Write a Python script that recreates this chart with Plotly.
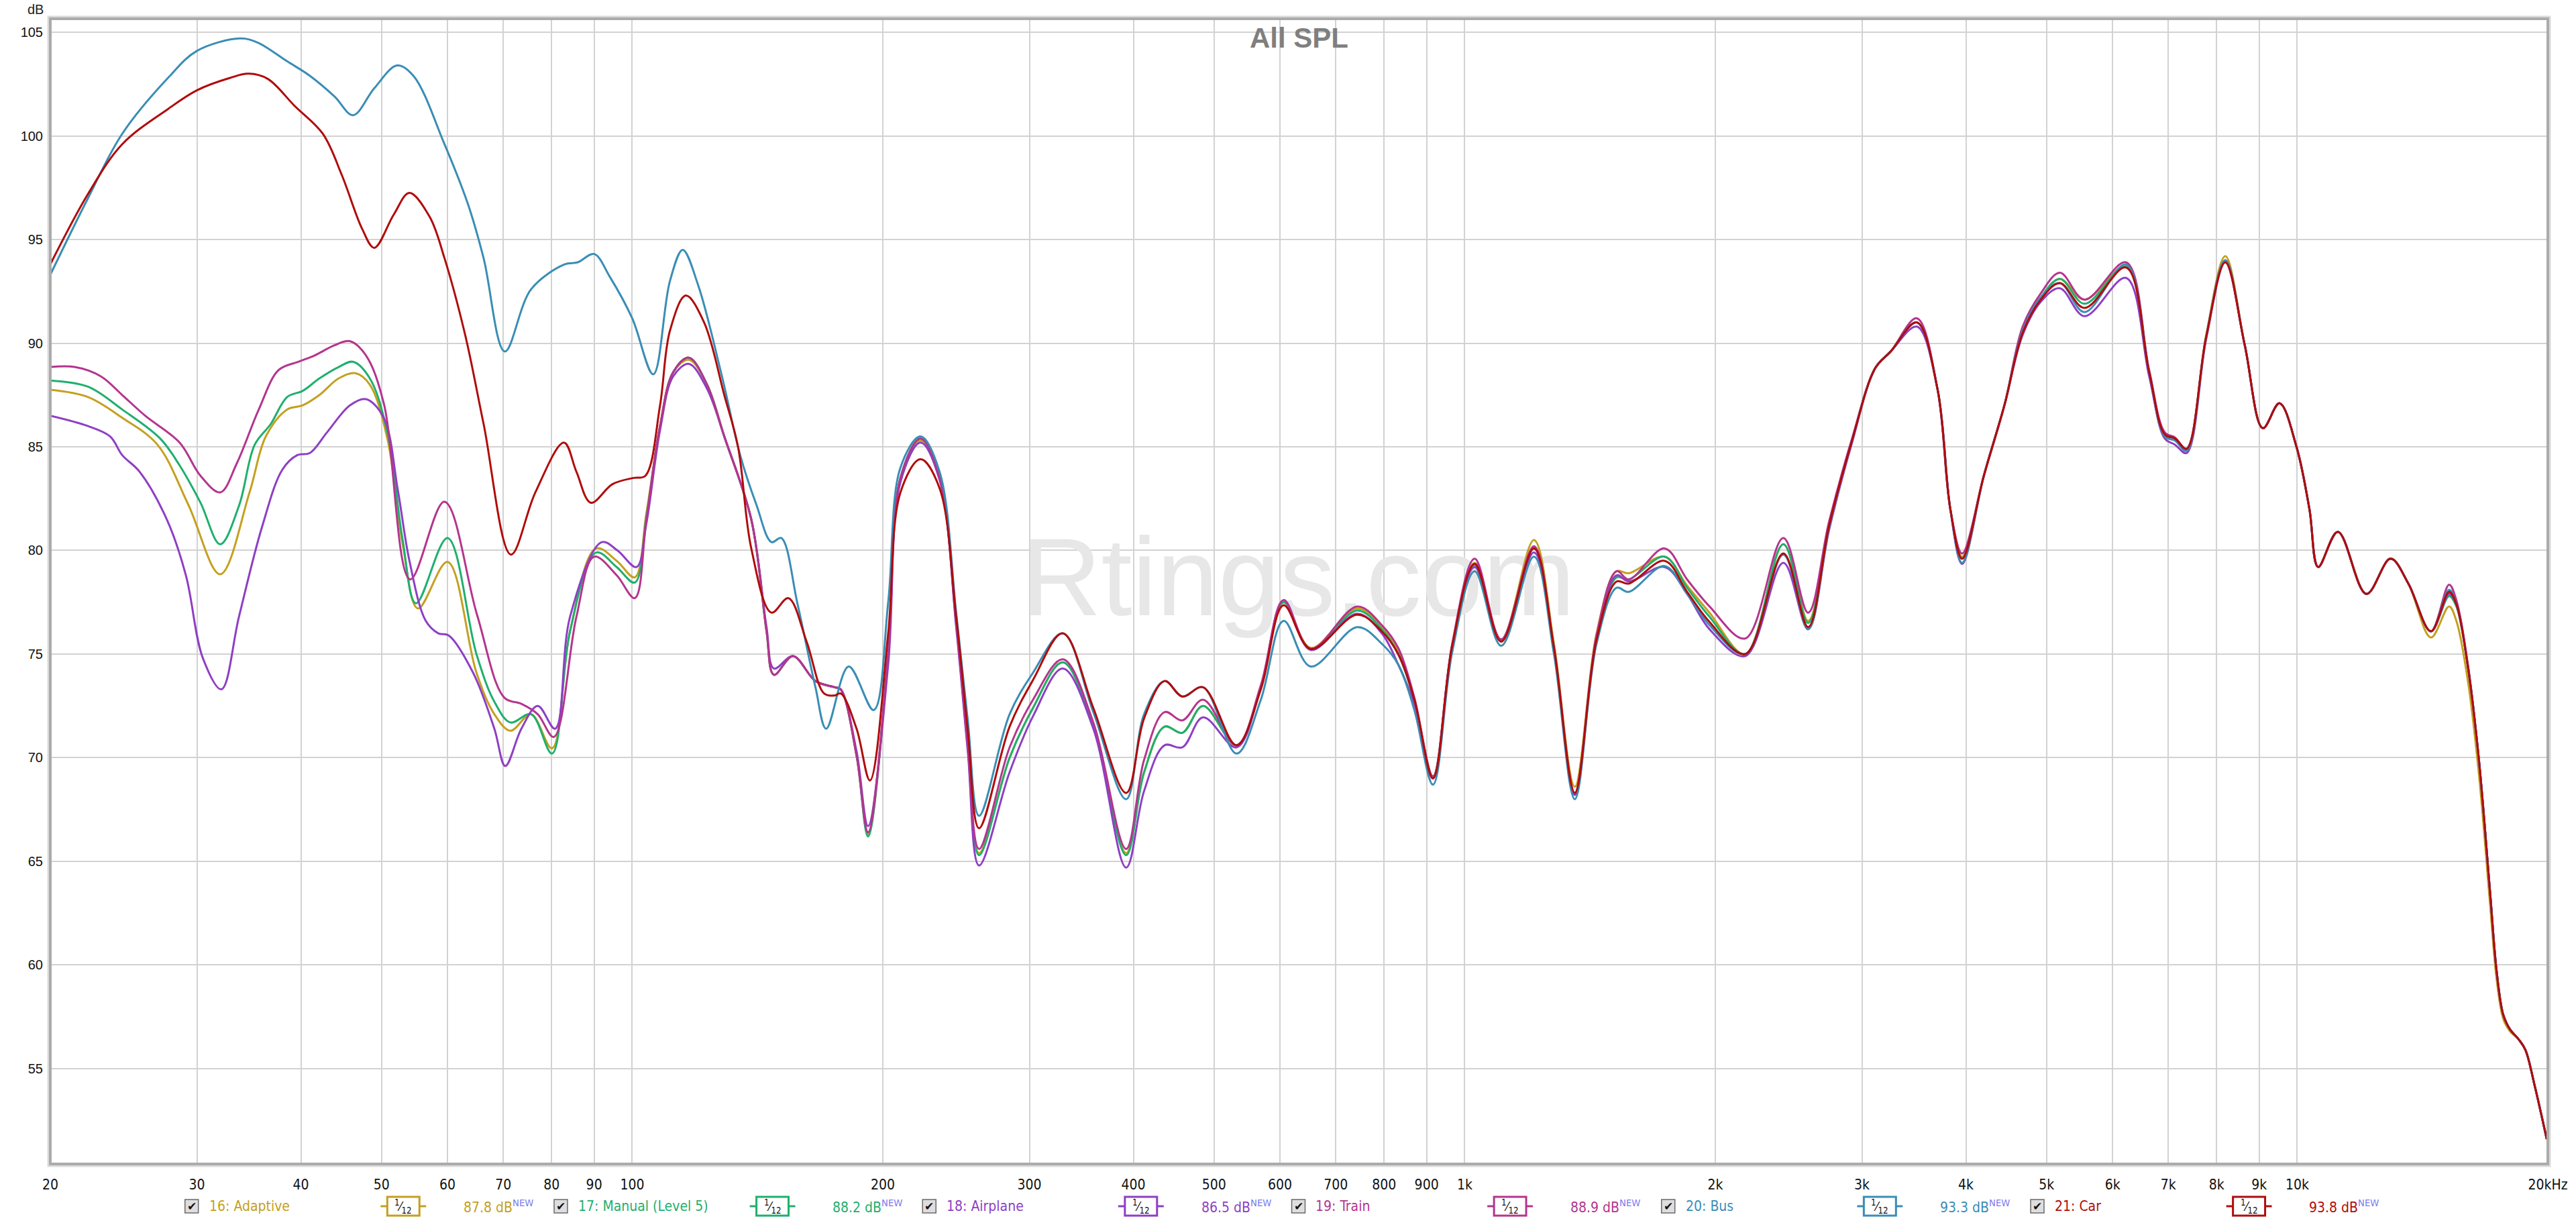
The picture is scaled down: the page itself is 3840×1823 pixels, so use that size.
import math
import plotly.graph_objects as go

# ---------------- data ----------------
SERIES_NAMES = ["16: Adaptive", "17: Manual (Level 5)", "18: Airplane", "19: Train", "20: Bus", "21: Car"]
SERIES_DB_LABEL = ["87.8", "88.2", "86.5", "88.9", "93.3", "93.8"]
SERIES_COLORS = ["#C4A020", "#1FAF6E", "#8E3FC4", "#B4358E", "#3A8DB5", "#B00C0C"]

# low-frequency parts (own frequency points per series)
F_ADA_LO = [20, 22.2, 24.4, 26.9, 29.3, 32, 34.7, 36.3, 38.5, 40.2, 42.1, 44.4, 46.5, 48.4, 50.8, 53, 55.3, 60, 65,
            68.3, 71.4, 75.6, 80.1, 84.2, 90.5, 95.8, 100.7, 104, 108, 112, 117, 123, 129, 139, 145, 148, 156, 166,
            175, 178, 186, 192]
DB_ADA_LO = [87.75, 87.4, 86.4, 85.1, 82.2, 78.85, 82.8, 85.5, 86.8, 87.0, 87.5, 88.3, 88.55, 88.0, 85.4, 80.3, 77.2,
             79.45, 74.1, 72.1, 71.3, 72.1, 70.45, 76.1, 80.1, 79.5, 78.7, 81.8, 86.0, 88.6, 89.2, 88.0, 85.5, 81.5,
             76.1, 74.0, 74.9, 73.7, 73.4, 73.3, 70.1, 66.3]

F_MAN_LO = [20, 22.2, 24.4, 27.1, 28.6, 30.3, 32, 33.7, 35.2, 36.8, 38.5, 40.2, 42.1, 44.4, 46.2, 48.4, 50.8, 53, 55,
            60, 65, 68.3, 71.4, 75.6, 80.1, 84.2, 90.5, 95.8, 100.7, 104, 108, 112, 117, 123, 129, 139, 145, 148, 156,
            166, 175, 178, 186, 192]
DB_MAN_LO = [88.2, 87.9, 86.8, 85.4, 84.1, 82.3, 80.3, 82.15, 85.1, 86.1, 87.4, 87.7, 88.3, 88.85, 89.1, 88.3, 85.7,
             80.5, 77.45, 80.6, 75.0, 72.7, 71.7, 72.1, 70.2, 76.1, 79.9, 79.2, 78.45, 81.6, 86.0, 88.6, 89.3, 88.0,
             85.5, 81.5, 76.1, 74.0, 74.9, 73.7, 73.4, 73.3, 70.1, 66.2]

F_AIR_LO = [20, 22.2, 23.6, 24.4, 25.6, 27.6, 29.1, 30.5, 32.1, 33.7, 35.9, 38, 39.6, 41, 43, 45.8, 47.9, 50.3, 52.3,
            54, 56.5, 58.5, 60.2, 64.4, 68.3, 70.4, 73.6, 77, 80.8, 84.2, 91.9, 96, 101.2, 104, 108, 112, 117, 123,
            129, 139, 145, 148, 156, 166, 175, 178, 186, 192]
DB_AIR_LO = [86.5, 86.0, 85.5, 84.6, 83.8, 81.5, 78.8, 74.8, 73.3, 76.8, 81.1, 83.9, 84.6, 84.7, 85.7, 87.0, 87.3,
             86.4, 82.9, 79.5, 76.6, 76.0, 75.9, 74.1, 71.4, 69.6, 71.4, 72.5, 71.4, 76.8, 80.4, 80.0, 79.2, 81.3,
             85.8, 88.4, 89.0, 87.8, 85.5, 81.5, 76.3, 74.3, 74.9, 73.7, 73.4, 73.3, 70.3, 66.7]

F_TRA_LO = [20, 21.4, 23, 24.4, 26, 28.6, 30.3, 32, 33.5, 35.6, 37.6, 39.7, 41.5, 43.9, 45.8, 47.9, 50.3, 54.1, 59.5,
            65.1, 70.2, 73.6, 77, 80.5, 85.7, 90, 95.8, 100.7, 104, 108, 112, 117, 123, 129, 139, 145, 148, 156, 166,
            175, 178, 186, 192]
DB_TRA_LO = [88.85, 88.85, 88.4, 87.5, 86.5, 85.2, 83.6, 82.8, 84.2, 86.8, 88.7, 89.1, 89.4, 89.9, 90.1, 89.4, 87.1,
             78.6, 82.35, 76.9, 72.9, 72.6, 72.1, 71.0, 76.8, 79.7, 78.8, 77.7, 81.5, 86.0, 88.6, 89.3, 88.0, 85.5,
             81.5, 76.1, 74.0, 74.9, 73.7, 73.4, 73.3, 70.1, 66.4]

F_BUS_LO = [20, 22.2, 24.4, 27.7, 30, 33.8, 35.5, 38.5, 41, 43.9, 46.2, 49, 52.2, 54.6, 59.5, 63.5, 66.3, 70.3, 75.6,
            82.9, 86, 90, 94, 100, 106, 111, 115, 120, 128, 135, 141, 147, 151, 158, 166, 171, 182, 195]
DB_BUS_LO = [93.3, 97.0, 100.1, 102.8, 104.1, 104.7, 104.5, 103.6, 102.9, 101.9, 101.0, 102.3, 103.4, 102.9, 99.6,
             96.7, 94.1, 89.6, 92.6, 93.8, 93.9, 94.3, 93.2, 91.2, 88.5, 93.0, 94.5, 92.8, 88.5, 84.5, 82.2, 80.4,
             80.6, 77.4, 73.4, 71.4, 74.4, 72.3]

F_CAR_LO = [20, 22.2, 24.4, 27.7, 30, 32.9, 34.6, 36.5, 39.3, 42.5, 44.8, 47.4, 49, 51.7, 54, 57.1, 59.5, 63, 66.3,
            71.5, 76.5, 82.8, 85.7, 89.2, 94.7, 100.4, 103.7, 108, 111, 116, 122, 129, 134, 139, 147, 154, 162, 170,
            175, 178, 186, 193]
DB_CAR_LO = [93.8, 97.2, 99.6, 101.3, 102.2, 102.8, 103.0, 102.75, 101.45, 100.1, 98.1, 95.5, 94.6, 96.2, 97.25,
             96.1, 94.1, 90.4, 86.1, 79.8, 82.8, 85.2, 83.8, 82.3, 83.2, 83.5, 83.6, 87.0, 90.6, 92.3, 91.0, 87.5,
             85.0, 80.1, 77.0, 77.7, 75.6, 73.1, 73.0, 73.1, 71.4, 68.9]

# shared frequency points above 200 Hz
F_HI = [203, 210, 222, 234, 245, 253, 261, 284, 303, 329,
        358, 392, 412, 436, 458, 485, 532, 569, 606, 653,
        743, 795, 832, 870, 916, 966, 1028, 1106, 1211, 1280,
        1356, 1440, 1522, 1574, 1738, 1850, 1968, 2172, 2414, 2585,
        2740, 2919, 3113, 3249, 3492, 3697, 3831, 3958, 4203, 4449,
        4680, 4920, 5187, 5553, 6228, 6640, 6933, 7132, 7362, 7774,
        8196, 8650, 9094, 9521, 9980, 10343, 10597, 11190, 12108, 12945,
        13600, 14476, 15220, 15530, 16020, 16520, 17040, 17360, 17680, 18010,
        18460, 18800, 19280, 19940]

DB_ADA_HI = [75.0, 83.5, 85.3, 83.5, 76.5, 70.5, 65.4, 70.0, 72.4, 74.6,
             71.5, 65.4, 69.3, 71.5, 71.2, 72.5, 70.6, 73.4, 77.5, 75.3,
             77.2, 76.3, 75.2, 72.8, 69.1, 75.4, 79.4, 75.7, 80.5, 75.5,
             68.6, 76.0, 79.0, 78.9, 79.7, 78.3, 77.0, 75.0, 80.3, 76.6,
             81.2, 85.3, 88.8, 89.6, 91.0, 87.8, 82.0, 79.7, 83.6, 87.0,
             90.6, 92.2, 93.1, 92.1, 93.7, 88.6, 85.6, 85.4, 84.9, 90.4,
             94.2, 89.9, 85.9, 87.1, 85.0, 82.0, 79.2, 80.9, 77.9, 79.6,
             78.4, 75.8, 77.3, 76.6, 73.8, 69.3, 63.0, 59.3, 57.4, 56.8,
             56.4, 55.9, 54.2, 51.6]
DB_MAN_HI = [75.0, 83.5, 85.4, 83.5, 76.5, 70.5, 65.3, 70.0, 72.4, 74.6,
             71.5, 65.3, 69.3, 71.5, 71.2, 72.5, 70.6, 73.4, 77.5, 75.25,
             77.1, 76.2, 75.0, 72.8, 69.1, 75.4, 79.3, 75.7, 80.1, 75.3,
             68.2, 75.8, 78.7, 78.6, 79.7, 78.2, 76.8, 75.0, 80.3, 76.5,
             81.2, 85.3, 88.8, 89.6, 91.0, 87.8, 82.0, 79.6, 83.6, 87.0,
             90.6, 92.2, 93.1, 91.9, 93.7, 88.6, 85.6, 85.4, 84.9, 90.3,
             94.0, 89.9, 85.9, 87.1, 85.0, 82.0, 79.2, 80.9, 77.9, 79.6,
             78.4, 76.1, 77.8, 77.3, 74.5, 70.0, 63.6, 59.7, 57.6, 56.9,
             56.4, 55.9, 54.2, 51.6]
DB_AIR_HI = [74.5, 83.3, 85.2, 83.4, 76.3, 70.3, 64.8, 69.3, 72.0, 74.3,
             71.4, 64.7, 68.4, 70.6, 70.5, 71.95, 70.5, 73.4, 77.6, 75.2,
             76.95, 76.0, 74.5, 72.6, 69.0, 75.4, 79.2, 75.7, 79.9, 75.2,
             68.2, 75.8, 78.8, 78.5, 79.2, 77.9, 76.2, 74.9, 79.4, 76.2,
             81.0, 85.2, 88.8, 89.6, 90.8, 87.8, 82.0, 79.35, 83.6, 87.0,
             90.4, 92.0, 92.65, 91.3, 93.15, 88.4, 85.4, 85.1, 84.7, 90.2,
             93.9, 89.9, 85.9, 87.1, 85.0, 82.0, 79.2, 80.9, 77.9, 79.6,
             78.4, 76.1, 77.9, 77.4, 74.5, 70.0, 63.6, 59.7, 57.6, 56.9,
             56.4, 55.9, 54.2, 51.6]
DB_TRA_HI = [75.0, 83.5, 85.4, 83.5, 76.5, 70.6, 65.6, 70.5, 72.8, 74.75,
             71.7, 65.6, 69.9, 72.2, 71.8, 72.8, 70.6, 73.5, 77.6, 75.25,
             77.3, 76.4, 75.3, 72.9, 69.1, 75.5, 79.6, 75.7, 80.2, 75.3,
             68.3, 75.9, 79.0, 78.6, 80.1, 78.6, 77.3, 75.75, 80.6, 77.0,
             81.4, 85.4, 88.8, 89.6, 91.2, 87.8, 82.0, 79.85, 83.6, 87.0,
             90.8, 92.4, 93.4, 92.1, 93.9, 88.7, 85.7, 85.45, 84.9, 90.3,
             94.0, 89.9, 85.9, 87.1, 85.0, 82.0, 79.2, 80.9, 77.9, 79.6,
             78.4, 76.1, 78.35, 77.6, 74.6, 70.0, 63.6, 59.7, 57.6, 56.9,
             56.4, 55.9, 54.2, 51.6]
DB_BUS_HI = [77.5, 84.0, 85.5, 83.8, 77.0, 71.8, 67.2, 72.1, 74.1, 76.0,
             72.2, 68.0, 72.1, 73.7, 72.95, 73.4, 70.2, 72.8, 76.6, 74.4,
             76.3, 75.5, 74.5, 72.3, 68.7, 75.1, 79.0, 75.4, 79.7, 75.0,
             68.0, 75.5, 78.2, 78.0, 79.25, 77.9, 76.4, 75.0, 79.8, 76.2,
             81.1, 85.3, 88.8, 89.6, 91.0, 87.8, 82.0, 79.4, 83.6, 87.0,
             90.6, 92.2, 92.9, 91.5, 93.8, 88.6, 85.5, 85.3, 84.8, 90.3,
             94.0, 89.9, 85.9, 87.1, 85.0, 82.0, 79.2, 80.9, 77.9, 79.6,
             78.4, 76.1, 78.1, 77.4, 74.5, 70.0, 63.6, 59.7, 57.6, 56.9,
             56.4, 55.9, 54.2, 51.6]
DB_CAR_HI = [76.0, 82.8, 84.4, 83.0, 76.8, 71.3, 66.6, 71.5, 73.75, 76.0,
             72.4, 68.3, 71.9, 73.7, 72.95, 73.4, 70.6, 73.3, 77.35, 75.25,
             76.9, 76.1, 75.0, 72.8, 69.0, 75.4, 79.35, 75.6, 80.1, 75.3,
             68.3, 75.7, 78.5, 78.4, 79.5, 78.0, 76.55, 75.0, 79.85, 76.3,
             81.2, 85.3, 88.8, 89.6, 91.0, 87.8, 82.0, 79.6, 83.6, 87.0,
             90.5, 92.1, 92.9, 91.7, 93.65, 88.6, 85.6, 85.4, 84.9, 90.3,
             93.9, 89.9, 85.9, 87.1, 85.0, 82.0, 79.2, 80.9, 77.9, 79.6,
             78.4, 76.1, 78.0, 77.4, 74.5, 70.0, 63.6, 59.7, 57.6, 56.9,
             56.4, 55.9, 54.2, 51.6]

X_TICKS = [20, 30, 40, 50, 60, 70, 80, 90, 100, 200, 300, 400, 500, 600, 700, 800, 900,
           1000, 2000, 3000, 4000, 5000, 6000, 7000, 8000, 9000, 10000, 20000]
X_TICK_TEXT = ["20", "30", "40", "50", "60", "70", "80", "90", "100", "200", "300", "400", "500", "600", "700",
               "800", "900", "1k", "2k", "3k", "4k", "5k", "6k", "7k", "8k", "9k", "10k", "20kHz"]
Y_TICKS = [55, 60, 65, 70, 75, 80, 85, 90, 95, 100, 105]

SERIES_F = [F_ADA_LO + F_HI, F_MAN_LO + F_HI, F_AIR_LO + F_HI, F_TRA_LO + F_HI, F_BUS_LO + F_HI, F_CAR_LO + F_HI]
SERIES_DB = [DB_ADA_LO + DB_ADA_HI, DB_MAN_LO + DB_MAN_HI, DB_AIR_LO + DB_AIR_HI, DB_TRA_LO + DB_TRA_HI,
             DB_BUS_LO + DB_BUS_HI, DB_CAR_LO + DB_CAR_HI]

# ---------------- layout geometry ----------------
W, H = 3840, 1823
PL, PR, PT, PB = 75, 3803, 28, 1735
NARROW = "Liberation Sans Narrow, DejaVu Sans Condensed, Arial Narrow, sans-serif"
SANS = "Liberation Sans, Arial, Helvetica, sans-serif"


def px(x):
    return (x - PL) / (PR - PL)


def py(y):
    return (PB - y) / (PB - PT)


fig = go.Figure()

# watermark (beneath the curves)
fig.add_trace(go.Scatter(x=[631], y=[78.2], mode="text", text=["Rtings.com"],
                         textfont=dict(size=165, color="#E7E7E7", family=SANS),
                         hoverinfo="skip", showlegend=False))

for name, f, db, col in zip(SERIES_NAMES, SERIES_F, SERIES_DB, SERIES_COLORS):
    fig.add_trace(go.Scatter(x=f, y=db, mode="lines", name=name,
                             line=dict(color=col, width=3, shape="spline", smoothing=1.0),
                             showlegend=False, hoverinfo="skip"))

shapes = []
for v in [100, 1000, 10000]:
    shapes.append(dict(type="line", xref="x", yref="paper", x0=math.log10(v), x1=math.log10(v), y0=0, y1=1,
                       line=dict(color="#A2A2A2", width=1.5), layer="below"))
# frame
shapes.append(dict(type="rect", xref="paper", yref="paper", x0=px(PL - 3), x1=px(PR + 3), y0=py(PB + 3), y1=py(PT - 3),
                   line=dict(color="#DADADA", width=3), layer="above"))
shapes.append(dict(type="rect", xref="paper", yref="paper", x0=0, x1=1, y0=0, y1=1,
                   line=dict(color="#ABABAB", width=4), layer="above"))

annotations = []
annotations.append(dict(text="<b>All SPL</b>", xref="paper", yref="paper", x=0.5, y=py(57), xanchor="center",
                        yanchor="middle", showarrow=False, font=dict(size=42, color="#7F7F7F", family=SANS)))
annotations.append(dict(text="dB", xref="paper", yref="paper", x=px(53), y=py(14), xanchor="center",
                        yanchor="middle", showarrow=False, font=dict(size=20, color="#222222", family=SANS)))

LEG_X = [286, 837, 1387, 1938, 2490, 3041]
LY = 1798
for base, name, dbl, col in zip(LEG_X, SERIES_NAMES, SERIES_DB_LABEL, SERIES_COLORS):
    # checkbox
    shapes.append(dict(type="rect", xref="paper", yref="paper", x0=px(base - 10), x1=px(base + 10),
                       y0=py(LY + 10), y1=py(LY - 10), fillcolor="#DEDEDE",
                       line=dict(color="#6A6A6A", width=1.5)))
    annotations.append(dict(text="✔", xref="paper", yref="paper", x=px(base), y=py(LY), xanchor="center",
                            yanchor="middle", showarrow=False, font=dict(size=17, color="#111111", family="DejaVu Sans")))
    annotations.append(dict(text=name, xref="paper", yref="paper", x=px(base + 24), y=py(LY), xanchor="left",
                            yanchor="middle", showarrow=False, font=dict(size=21, color=col, family=NARROW)))
    # smoothing icon
    ic = base + 316
    shapes.append(dict(type="line", xref="paper", yref="paper", x0=px(ic - 34), x1=px(ic + 34), y0=py(LY), y1=py(LY),
                       line=dict(color=col, width=3)))
    shapes.append(dict(type="rect", xref="paper", yref="paper", x0=px(ic - 24), x1=px(ic + 24),
                       y0=py(LY + 14), y1=py(LY - 14), fillcolor="white", line=dict(color=col, width=3)))
    annotations.append(dict(text="<sup>1</sup>⁄<sub>12</sub>", xref="paper", yref="paper", x=px(ic), y=py(LY),
                            xanchor="center", yanchor="middle", showarrow=False,
                            font=dict(size=19, color="#111111", family=NARROW)))
    annotations.append(dict(text=f"{dbl} dB<sup><span style='color:#7B7BEF'>NEW</span></sup>", xref="paper",
                            yref="paper", x=px(base + 404), y=py(LY), xanchor="left", yanchor="middle",
                            showarrow=False, font=dict(size=21, color=col, family=NARROW)))

fig.update_layout(
    width=W, height=H,
    margin=dict(l=PL, r=W - PR, t=PT, b=H - PB, pad=0),
    paper_bgcolor="white", plot_bgcolor="white",
    showlegend=False,
    shapes=shapes, annotations=annotations,
    xaxis=dict(type="log", range=[math.log10(20), math.log10(20000)], tickvals=X_TICKS, ticktext=X_TICK_TEXT,
               showgrid=True, gridcolor="#D2D2D2", gridwidth=1.5, zeroline=False, showline=False,
               ticks="outside", ticklen=12, tickcolor="rgba(0,0,0,0)",
               tickfont=dict(size=21, color="#111111", family=NARROW)),
    yaxis=dict(range=[50.4, 105.65], tickvals=Y_TICKS, showgrid=True, gridcolor="#D2D2D2", gridwidth=1.5,
               zeroline=False, showline=False, ticks="outside", ticklen=6, tickcolor="rgba(0,0,0,0)",
               tickfont=dict(size=20, color="#111111", family=SANS)),
)

fig.write_html("out.html", config={"displayModeBar": False},
               post_script="document.body.style.margin='0';document.body.style.overflow='hidden';")
